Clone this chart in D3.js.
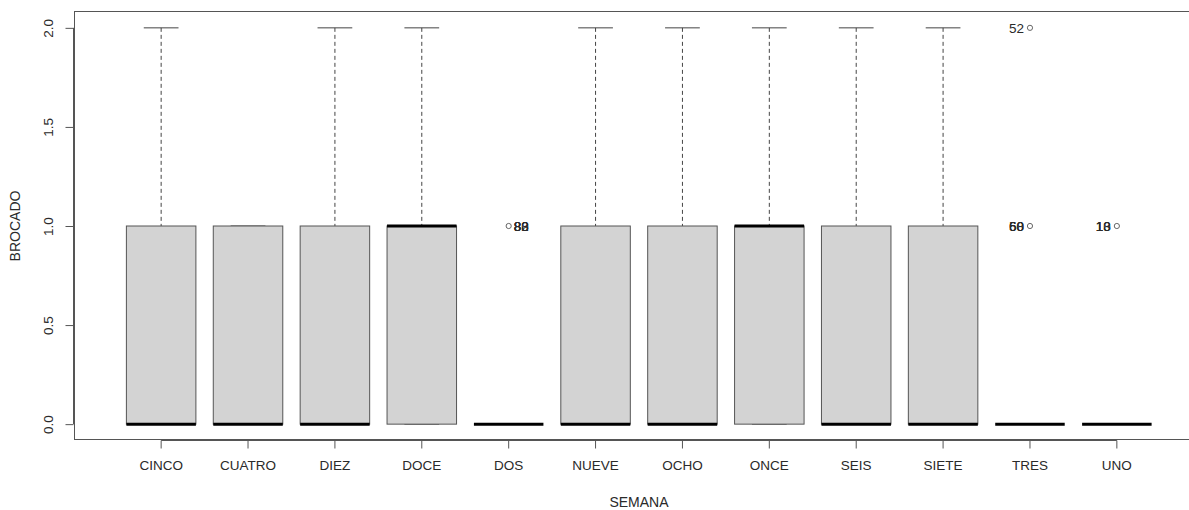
<!DOCTYPE html>
<html>
<head>
<meta charset="utf-8">
<script src="https://cdn.jsdelivr.net/npm/d3@7"></script>
<style>
  html, body { margin: 0; padding: 0; background: #fff; }
  svg { display: block; }
  text { font-family: "Liberation Sans", Arial, sans-serif; fill: #2a2a2a; }
</style>
</head>
<body>
<svg id="chart" width="1189" height="510"></svg>
<script>
// Weekly BROCADO distribution by SEMANA
const categories = ["CINCO", "CUATRO", "DIEZ", "DOCE", "DOS", "NUEVE", "OCHO", "ONCE", "SEIS", "SIETE", "TRES", "UNO"];
const whiskerLow  = [0, 0, 0, 0, 0, 0, 0, 0, 0, 0, 0, 0];
const q1          = [0, 0, 0, 0, 0, 0, 0, 0, 0, 0, 0, 0];
const median      = [0, 0, 0, 1, 0, 0, 0, 1, 0, 0, 0, 0];
const q3          = [1, 1, 1, 1, 0, 1, 1, 1, 1, 1, 0, 0];
const whiskerHigh = [2, 1, 2, 2, 0, 2, 2, 2, 2, 2, 0, 0];

// Outlying observations: group, value, case labels, label side
const outlierGroup = ["DOS", "TRES", "TRES", "UNO"];
const outlierValue = [1, 2, 1, 1];
const outlierIds   = [["80", "82", "83", "88"], ["52"], ["50", "60", "68"], ["10", "13", "18"]];
const outlierSide  = ["right", "left", "left", "left"];

const yTicks = [0, 0.5, 1, 1.5, 2];

const svg = d3.select("#chart");
const plotLeft = 74, plotTop = 12, plotBottom = 440, plotRight = 1200;
const tickFont = "13.5px", titleFont = "14px";

// Numeric x positions 1..n, padded like a base-graphics boxplot
const n = categories.length;
const xLin = d3.scaleLinear().domain([0.02, n + 0.98]).range([plotLeft + 2, plotRight + 2]);
const x = d3.scaleBand().domain(categories).range([xLin(0.5), xLin(n + 0.5)]).paddingInner(0.2).paddingOuter(0.1);
const xc = c => x(c) + x.bandwidth() / 2;
const y = d3.scaleLinear().domain([-0.08, 2.08]).range([plotBottom, plotTop]);

const axisColor = "#555";

// Plot frame
svg.append("rect")
  .attr("x", plotLeft + 0.5).attr("y", plotTop - 0.5)
  .attr("width", plotRight - plotLeft).attr("height", plotBottom - plotTop)
  .attr("fill", "none").attr("stroke", axisColor).attr("stroke-width", 1);

// Y axis
const yAxis = svg.append("g")
  .attr("transform", `translate(${plotLeft - 8.5},0)`)
  .call(d3.axisLeft(y).tickValues(yTicks).tickFormat(d3.format(".1f")).tickSize(-8).tickPadding(0));
yAxis.select(".domain").remove();
yAxis.selectAll(".tick line").attr("stroke", axisColor).attr("x1", 0).attr("x2", 8);
yAxis.selectAll(".tick text")
  .attr("transform", "rotate(-90)")
  .attr("x", 0).attr("y", -13)
  .attr("dy", 0)
  .attr("text-anchor", "middle")
  .style("font-size", tickFont)
  .style("font-family", "'Liberation Sans', Arial, sans-serif")
  .attr("fill", "#333");
yAxis.append("line")
  .attr("x1", 8).attr("x2", 8)
  .attr("y1", y(0)).attr("y2", y(2))
  .attr("stroke", axisColor);

// X axis
const xAxis = svg.append("g")
  .attr("transform", `translate(0,${plotBottom + 8.5})`)
  .call(d3.axisBottom(x).tickSize(-8).tickPadding(10));
xAxis.select(".domain").remove();
xAxis.selectAll(".tick line").attr("stroke", axisColor).attr("y1", 0).attr("y2", -8);
xAxis.selectAll(".tick text")
  .attr("y", 12).attr("dy", "0.71em")
  .style("font-size", tickFont)
  .style("font-family", "'Liberation Sans', Arial, sans-serif")
  .attr("fill", "#333");
xAxis.append("line")
  .attr("x1", xc(categories[0])).attr("x2", xc(categories[n - 1]))
  .attr("y1", -8).attr("y2", -8)
  .attr("stroke", axisColor);

// Axis titles
svg.append("text")
  .attr("x", xLin((n + 1) / 2)).attr("y", 507)
  .attr("text-anchor", "middle")
  .style("font-size", titleFont)
  .text("SEMANA");
svg.append("text")
  .attr("transform", `translate(20,${(plotTop + plotBottom) / 2}) rotate(-90)`)
  .attr("text-anchor", "middle")
  .style("font-size", titleFont)
  .text("BROCADO");

// Boxes
const rows = categories.map((c, i) => ({
  c, lo: whiskerLow[i], q1: q1[i], med: median[i], q3: q3[i], hi: whiskerHigh[i]
}));
const bw = x.bandwidth();
const g = svg.append("g");

rows.forEach(r => {
  const cx = xc(r.c);
  // whiskers
  if (r.hi > r.q3) {
    g.append("line")
      .attr("x1", cx).attr("x2", cx).attr("y1", y(r.hi)).attr("y2", y(r.q3))
      .attr("stroke", "#444").attr("stroke-dasharray", "4,3");
  }
  if (r.lo < r.q1) {
    g.append("line")
      .attr("x1", cx).attr("x2", cx).attr("y1", y(r.lo)).attr("y2", y(r.q1))
      .attr("stroke", "#444").attr("stroke-dasharray", "4,3");
  }
  // staples
  [r.hi, r.lo].forEach(v => {
    g.append("line")
      .attr("x1", cx - bw / 4).attr("x2", cx + bw / 4)
      .attr("y1", y(v)).attr("y2", y(v))
      .attr("stroke", "#444");
  });
  // box
  g.append("rect")
    .attr("x", x(r.c)).attr("y", y(r.q3))
    .attr("width", bw).attr("height", Math.max(0, y(r.q1) - y(r.q3)))
    .attr("fill", "#d3d3d3").attr("stroke", "#555").attr("stroke-width", 1);
  // median
  g.append("line")
    .attr("x1", x(r.c)).attr("x2", x(r.c) + bw)
    .attr("y1", y(r.med)).attr("y2", y(r.med))
    .attr("stroke", "#000").attr("stroke-width", 3);
});

// Outliers and their case labels
outlierGroup.forEach((c, i) => {
  const cx = xc(c), cy = y(outlierValue[i]);
  g.append("circle")
    .attr("cx", cx).attr("cy", cy).attr("r", 2.6)
    .attr("fill", "none").attr("stroke", "#666").attr("stroke-width", 1);
  outlierIds[i].forEach(id => {
    g.append("text")
      .attr("x", outlierSide[i] === "right" ? cx + 5 : cx - 6)
      .attr("y", cy)
      .attr("dy", "0.36em")
      .attr("text-anchor", outlierSide[i] === "right" ? "start" : "end")
      .style("font-size", tickFont)
      .text(id);
  });
});
</script>
</body>
</html>
